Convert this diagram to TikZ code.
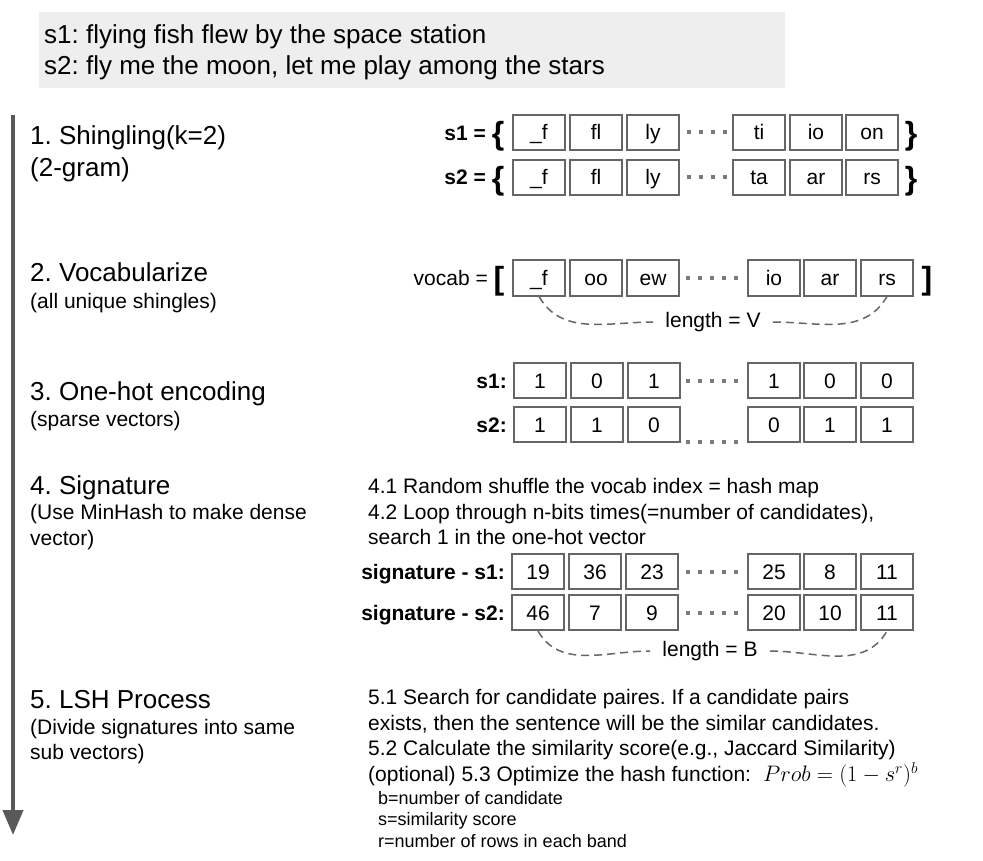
\documentclass[tikz,border=0pt]{standalone}
\usepackage{fontspec}
\setmainfont{Liberation Sans}
\usetikzlibrary{arrows.meta}
\definecolor{boxgray}{HTML}{666666}
\definecolor{dotgray}{HTML}{7A7A7A}
\definecolor{arrowgray}{HTML}{595959}
\definecolor{bggray}{HTML}{EEEEEE}
\newcommand{\fsz}[1]{\fontsize{#1}{#1}\selectfont}
\frenchspacing
\begin{document}
\begin{tikzpicture}[x=1pt,y=-1pt,
  cell/.style={draw=boxgray, line width=2pt, minimum width=52pt, minimum height=35pt,
    inner sep=0pt, text height=16pt, text depth=1pt, font=\fsz{21}},
  txt/.style={anchor=base west, inner sep=0pt, font=\fsz{21}},
  head/.style={anchor=base west, inner sep=0pt, font=\fsz{26}},
  small/.style={anchor=base west, inner sep=0pt, font=\fsz{18}},
  lbl/.style={anchor=base east, inner sep=0pt, font=\fsz{21}\bfseries},
  brace/.style={inner sep=0pt, font=\fsz{32}\bfseries},
  dotrow/.style={dotgray, line width=4pt, dash pattern=on 4pt off 8pt},
  spanline/.style={boxgray, line width=1.5pt, dash pattern=on 8pt off 5pt},
  spanlbl/.style={inner sep=0pt, inner xsep=12pt, font=\fsz{21}},
]
\useasboundingbox (0,0) rectangle (983,861);
\fill[white] (0,0) rectangle (983,861);

% top box
\node[fill=bggray, minimum width=746pt, minimum height=76pt, inner sep=0pt, anchor=north west] (topbox) at (39,12) {};
\node[head] (t1) at (44,44) {s1: flying fish flew by the space station};
\node[head] (t2) at (44,75) {s2: fly me the moon, let me play among the stars};

% left arrow
\coordinate (arrTop) at (13,115);
\coordinate (arrBot) at (13,835);
\draw[arrowgray, line width=4pt, -{Triangle[width=20pt,length=25pt]}] (arrTop) -- (arrBot);

% headings
\node[head] (h1) at (30,145) {1. Shingling(k=2)};
\node[head] (h1b) at (30,177) {(2-gram)};
\node[head] (h2) at (30,282) {2. Vocabularize};
\node[txt] (h2b) at (30,308.5) {(all unique shingles)};
\node[head] (h3) at (30,400) {3. One-hot encoding};
\node[txt] (h3b) at (30,426.5) {(sparse vectors)};
\node[head] (h4) at (30,494) {4. Signature};
\node[txt] (h4b) at (30,519.5) {(Use MinHash to make dense};
\node[txt] (h4c) at (30,545.5) {vector)};
\node[head] (h5) at (30,708) {5. LSH Process};
\node[txt] (h5b) at (30,734.5) {(Divide signatures into same};
\node[txt] (h5c) at (30,759.5) {sub vectors)};

% 1. shingles
\node[lbl] (s1l) at (486,140.5) {s1 =};
\node[brace] (s1o) at (498,136) {\{};
\node[cell] (a1) at (539,132.5) {\_f};
\node[cell] (a2) at (596,132.5) {fl};
\node[cell] (a3) at (653,132.5) {ly};
\node[cell] (a4) at (759,132.5) {ti};
\node[cell] (a5) at (816,132.5) {io};
\node[cell] (a6) at (872,132.5) {on};
\node[brace] (s1c) at (911,136) {\}};
\draw[dotrow] (687,132.5) -- (727,132.5);

\node[lbl] (s2l) at (486,185) {s2 =};
\node[brace] (s2o) at (498,181) {\{};
\node[cell] (b1) at (539,177.5) {\_f};
\node[cell] (b2) at (596,177.5) {fl};
\node[cell] (b3) at (653,177.5) {ly};
\node[cell] (b4) at (759,177.5) {ta};
\node[cell] (b5) at (816,177.5) {ar};
\node[cell] (b6) at (872,177.5) {rs};
\node[brace] (s2c) at (911,181) {\}};
\draw[dotrow] (687,177.5) -- (727,177.5);

% 2. vocab
\node[anchor=base east, inner sep=0pt, font=\fsz{21}] (vl) at (488,285.5) {vocab =};
\node[brace] (vo) at (499,281) {[};
\node[cell] (v1) at (539,278) {\_f};
\node[cell] (v2) at (596,278) {oo};
\node[cell] (v3) at (653,278) {ew};
\node[cell] (v4) at (774,278) {io};
\node[cell] (v5) at (830,278) {ar};
\node[cell] (v6) at (887,278) {rs};
\node[brace] (vc) at (927,281) {]};
\draw[dotrow] (686,278) -- (738,278);
\node[spanlbl] (lenV) at (713,322) {length = V};
\draw[spanline] (v1.south) to[out=-60,in=180] (lenV.west);
\draw[spanline] (lenV.east) to[out=0,in=-120] (v6.south);

% 3. one-hot
\node[lbl] (o1l) at (507,388) {s1:};
\node[cell] (o11) at (540,380.5) {1};
\node[cell] (o12) at (597,380.5) {0};
\node[cell] (o13) at (654,380.5) {1};
\node[cell] (o14) at (774,380.5) {1};
\node[cell] (o15) at (830,380.5) {0};
\node[cell] (o16) at (887,380.5) {0};
\draw[dotrow] (686,380.5) -- (738,380.5);

\node[lbl] (o2l) at (507,432) {s2:};
\node[cell] (o21) at (540,424.5) {1};
\node[cell] (o22) at (597,424.5) {1};
\node[cell] (o23) at (654,424.5) {0};
\node[cell] (o24) at (774,424.5) {0};
\node[cell] (o25) at (830,424.5) {1};
\node[cell] (o26) at (887,424.5) {1};
\draw[dotrow] (686,441.5) -- (738,441.5);

% 4. signature
\node[txt] (p41) at (368,493.5) {4.1 Random shuffle the vocab index = hash map};
\node[txt] (p42) at (368,519.5) {4.2 Loop through n-bits times(=number of candidates),};
\node[txt] (p43) at (368,544.5) {search 1 in the one-hot vector};

\node[lbl] (g1l) at (505,579) {signature - s1:};
\node[cell] (g11) at (538,571.5) {19};
\node[cell] (g12) at (595,571.5) {36};
\node[cell] (g13) at (652,571.5) {23};
\node[cell] (g14) at (774,571.5) {25};
\node[cell] (g15) at (830,571.5) {8};
\node[cell] (g16) at (887,571.5) {11};
\draw[dotrow] (686,571.5) -- (738,571.5);

\node[lbl] (g2l) at (505,620) {signature - s2:};
\node[cell] (g21) at (538,612.5) {46};
\node[cell] (g22) at (595,612.5) {7};
\node[cell] (g23) at (652,612.5) {9};
\node[cell] (g24) at (774,612.5) {20};
\node[cell] (g25) at (830,612.5) {10};
\node[cell] (g26) at (887,612.5) {11};
\draw[dotrow] (686,612.5) -- (738,612.5);
\node[spanlbl] (lenB) at (710,651) {length = B};
\draw[spanline] (g21.south) to[out=-60,in=180] (lenB.west);
\draw[spanline] (lenB.east) to[out=0,in=-120] (g26.south);

% 5. LSH
\node[txt] (p51) at (368,704.5) {5.1 Search for candidate paires. If a candidate pairs};
\node[txt] (p52) at (368,730.5) {exists, then the sentence will be the similar candidates.};
\node[txt] (p53) at (368,755.5) {5.2 Calculate the similarity score(e.g., Jaccard Similarity)};
\node[txt] (p54) at (368,781.5) {(optional) 5.3 Optimize the hash function:};
\node[anchor=base west, inner sep=0pt, font=\fsz{20.74}, scale=1.08] (formula) at (763,781.5) {$Prob=(1-s^r)^b$};
\node[small] (q1) at (378,804) {b=number of candidate};
\node[small] (q2) at (378,825) {s=similarity score};
\node[small] (q3) at (378,847) {r=number of rows in each band};
\end{tikzpicture}
\end{document}
